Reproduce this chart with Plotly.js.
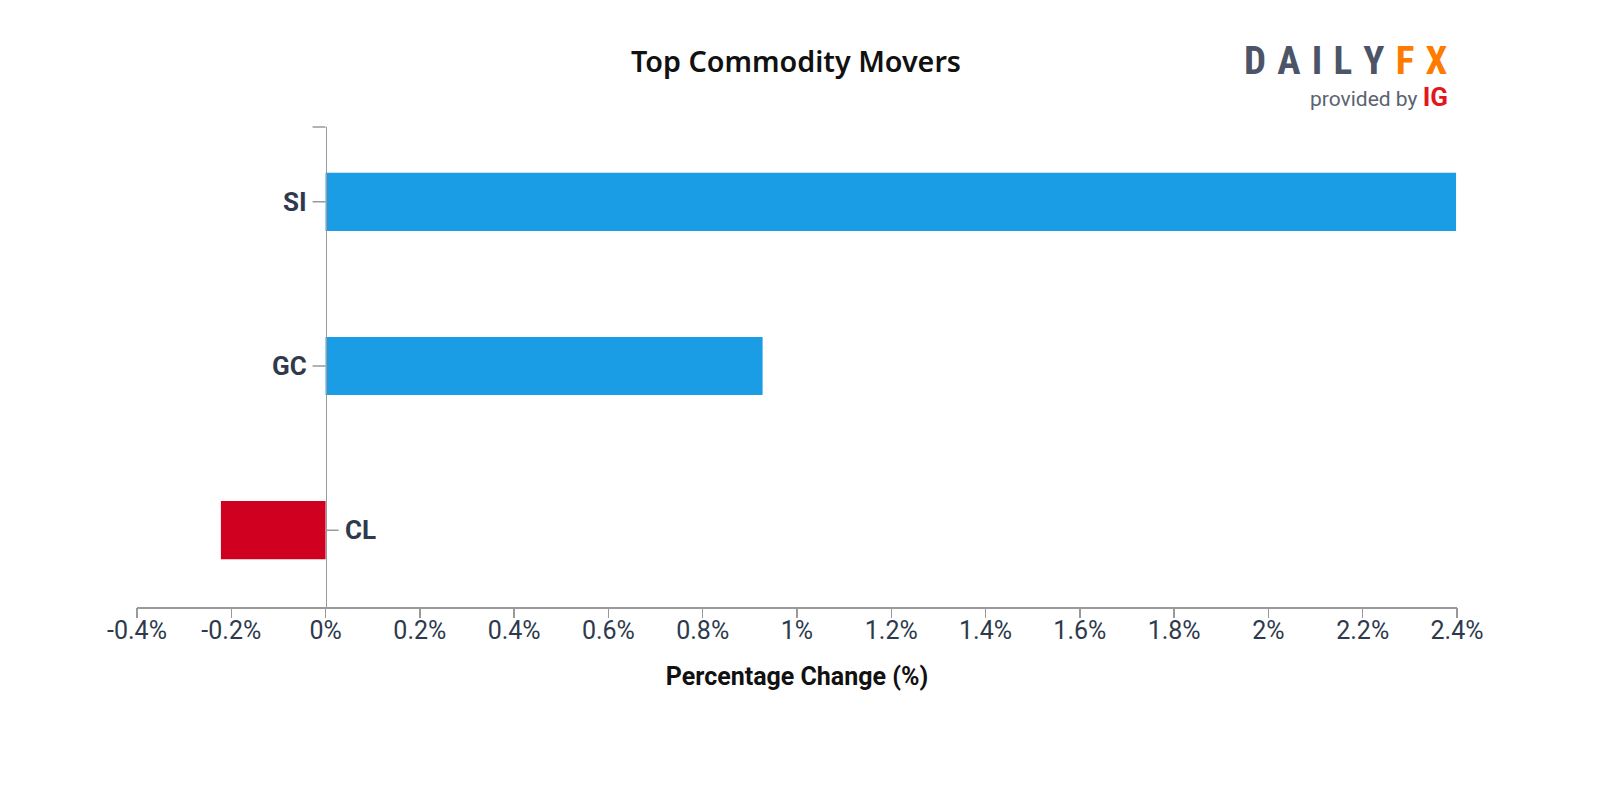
<!DOCTYPE html>
<html>
<head>
<meta charset="utf-8">
<script src="https://cdn.plot.ly/plotly-3.0.1.min.js"></script>
<style>html,body{margin:0;padding:0;background:#fff;}#chart{width:1600px;height:800px;}</style>
</head>
<body>
<div id="chart"></div>
<script>
// Data
const categories = ['CL', 'GC', 'SI'];
const changes = [-0.222, 0.927, 2.398];
const barColors = ['#cf0020', '#1b9de5', '#1b9de5'];
const xTickVals = [-0.4, -0.2, 0, 0.2, 0.4, 0.6, 0.8, 1, 1.2, 1.4, 1.6, 1.8, 2, 2.2, 2.4];
const xTickText = ['-0.4%', '-0.2%', '0%', '0.2%', '0.4%', '0.6%', '0.8%', '1%', '1.2%', '1.4%', '1.6%', '1.8%', '2%', '2.2%', '2.4%'];
const xRange = [-0.4, 2.4];

const axFont = "Roboto, sans-serif";
const logoFont = "'Roboto Condensed', Roboto, sans-serif";
const axisGray = '#9a9a9a';
const labelColor = '#2e3a4c';

const trace = {
  type: 'bar',
  orientation: 'h',
  y: categories,
  x: changes,
  marker: {color: barColors, line: {width: 0}},
  hoverinfo: 'x+y'
};

const zeroPos = (0 - xRange[0]) / (xRange[1] - xRange[0]);

const annotations = categories.map((c, i) => {
  const neg = changes[i] < 0;
  return {
    x: 0, y: c, xref: 'x', yref: 'y',
    text: '<b>' + c + '</b>',
    showarrow: true, arrowhead: 0, arrowwidth: 1.5, arrowcolor: axisGray,
    ax: neg ? 13 : -13, ay: 0,
    xanchor: neg ? 'left' : 'right', yanchor: 'middle',
    borderpad: 5,
    font: {family: axFont, size: 26, color: labelColor}
  };
});

const gap = '<span style="font-size:25px">\u2002</span>';
annotations.push(
  {xref: 'paper', yref: 'paper', x: 0.9947, y: 1.137, xanchor: 'right', yanchor: 'middle', showarrow: false,
   text: '<b><span style="color:#4b5567">' + ['D','A','I','L','Y'].join(gap) + gap + '</span><span style="color:#ff7b00">F' + gap + 'X</span></b>',
   font: {family: logoFont, size: 39, color: '#4b5567'}},
  {xref: 'paper', yref: 'paper', x: 0.9947, y: 1.062, xanchor: 'right', yanchor: 'middle', showarrow: false,
   text: '<span style="color:#5a6372">provided by </span><b><span style="color:#e3161b;font-size:26px">IG</span></b>',
   font: {family: axFont, size: 21, color: '#5a6372'}}
);

const layout = {
  width: 1600, height: 800,
  paper_bgcolor: '#fff', plot_bgcolor: '#fff',
  margin: {l: 137, r: 143, t: 127, b: 193, pad: 0},
  showlegend: false,
  bargap: 0.646,
  title: {text: 'Top Commodity Movers', x: 0.4975, xanchor: 'center', y: 0.922, yanchor: 'middle',
          font: {family: "'Noto Sans', sans-serif", size: 28.7, color: '#111', weight: 600}},
  xaxis: {
    range: xRange, tickvals: xTickVals, ticktext: xTickText,
    showgrid: false, zeroline: false, showline: true, linecolor: axisGray, linewidth: 1.5,
    ticks: '',
    tickfont: {family: axFont, size: 25, color: labelColor},
    title: {text: '<b>Percentage Change (%)</b>', standoff: 24,
            font: {family: axFont, size: 25, color: '#111'}},
    fixedrange: true
  },
  xaxis2: {
    overlaying: 'x', anchor: 'y', side: 'bottom',
    range: xRange, tickvals: xTickVals, showticklabels: false,
    showgrid: false, zeroline: false, showline: false,
    ticks: 'outside', ticklen: 10, tickwidth: 1.5, tickcolor: axisGray,
    fixedrange: true
  },
  yaxis: {
    range: [-0.468, 2.456], type: 'category', categoryorder: 'array', categoryarray: categories,
    anchor: 'free', position: zeroPos,
    showgrid: false, zeroline: false, showline: true, linecolor: axisGray, linewidth: 1.5,
    ticks: '', showticklabels: false, fixedrange: true
  },
  shapes: [
    {type: 'line', xref: 'x', yref: 'paper', xsizemode: 'pixel', xanchor: 0, x0: -13, x1: 0, y0: 1, y1: 1,
     line: {color: axisGray, width: 1.5}}
  ],
  annotations: annotations
};

const tickTrace = {type: 'scatter', x: [], y: [], xaxis: 'x2', yaxis: 'y', hoverinfo: 'skip', showlegend: false};

Plotly.newPlot('chart', [trace, tickTrace], layout, {displayModeBar: false, staticPlot: true});
</script>
</body>
</html>
